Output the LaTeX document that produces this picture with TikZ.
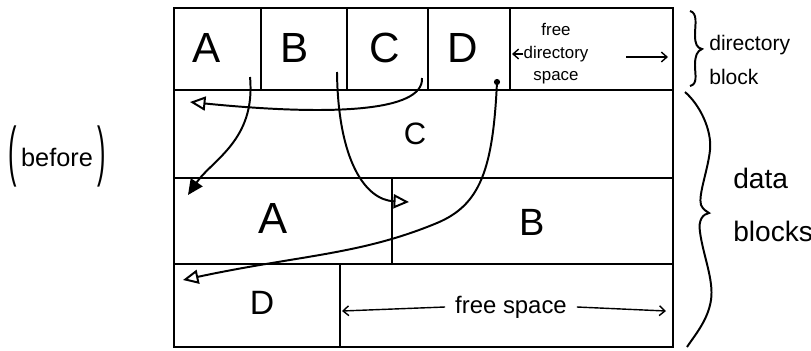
\documentclass[tikz,border=0pt]{standalone}
\usepackage{fontspec}
\setmainfont{Liberation Sans}
\usetikzlibrary{arrows.meta,calc}

\begin{document}
\begin{tikzpicture}[x=0.025cm,y=-0.025cm,
    frame/.style={line width=1.9pt},
    grid/.style={line width=1.5pt},
    entry/.style={font=\fontsize{30}{30}\selectfont},
    blk/.style={font=\fontsize{27}{27}\selectfont},
    note/.style={align=center,inner sep=0pt,font=\fontsize{12}{16}\selectfont},
    side/.style={align=left,anchor=west,inner sep=0pt},
    ptr/.style={line width=1.4pt,-{Triangle[open,length=11pt,width=10pt,line width=1.4pt]}},
    gap/.style={line width=1pt,-{Straight Barb[length=4pt,width=7pt]}},
    brace/.style={line width=1.4pt}
  ]
    \useasboundingbox (0,0) rectangle (811,350);

    \draw[frame] (174,8) rectangle (673,347);
    \draw[grid] (174,90) -- (673,90);
    \draw[grid] (174,178) -- (673,178);
    \draw[grid] (174,264) -- (673,264);
    \foreach \x in {261,347,428,510}
      \draw[grid] (\x,8) -- (\x,90);
    \draw[grid] (392,178) -- (392,264);
    \draw[grid] (340,264) -- (340,347);

    \node[entry] (dA) at (207,48) {A};
    \node[entry] (dB) at (295,48) {B};
    \node[entry] (dC) at (385,48) {C};
    \node[entry] (dD) at (463,48) {D};
    \node[note] (fds) at (556,54) {free\\directory\\space};

    \node[blk,font=\fontsize{22}{22}\selectfont] (bC) at (415,134) {C};
    \node[blk,font=\fontsize{31}{31}\selectfont] (bA) at (273,218) {A};
    \node[blk] (bB) at (532,222) {B};
    \node[blk,font=\fontsize{24}{24}\selectfont] (bD) at (262,303) {D};
    \node[font=\fontsize{17}{17}\selectfont,inner sep=7pt] (fsp) at (511,307) {free space};

    \node[side,font=\fontsize{15}{24}\selectfont] (dirblk) at (709,60) {directory\\block};
    \node[side,font=\fontsize{20}{38}\selectfont] (datblk) at (733,205) {data\\blocks};
    \node[font=\fontsize{18}{18}\selectfont] (before) at (57,156)
      {\raisebox{-5pt}{\scalebox{1}[2.6]{(}}\,before\,\raisebox{-5pt}{\scalebox{1}[2.6]{)}}};

    \coordinate (fdL) at (512,54);
    \coordinate (fdT) at (626,57);
    \coordinate (fdR) at (668,57);
    \coordinate (fsL) at (342,311);
    \coordinate (fsR) at (666,311);
    \draw[gap] (fds.west) -- (fdL);
    \draw[gap] (fdT) -- (fdR);
    \draw[gap] (fsp.west) -- (fsL);
    \draw[gap] (fsp.east) -- (fsR);

    \coordinate (sA) at (250,77);
    \coordinate (tA) at (188,195);
    \coordinate (sB) at (337,72);
    \coordinate (tB) at (409,202);
    \coordinate (sC) at (422,78);
    \coordinate (tC) at (190,102);
    \coordinate (sD) at (497,82);
    \coordinate (mD) at (437,223);
    \coordinate (tD) at (183,280);

    \draw[ptr] (sC) .. controls (424,112) and (330,116) .. (tC);
    \draw[ptr,-{Triangle[length=11pt,width=10pt]}] (sA) .. controls (256,140) and (212,160) .. (tA);
    \draw[ptr] (sB) .. controls (338,160) and (365,200) .. (tB);
    \draw[ptr] (sD) .. controls (493,170) and (480,205) .. (mD) .. controls (360,255) and (300,255) .. (tD);
    \fill (sD) circle[radius=2.2pt];

    \draw[brace] (690,11) .. controls (698,13) and (695,25) .. (695,35)
      .. controls (695,44) and (697,48) .. (702,49)
      .. controls (697,51) and (695,56) .. (695,65)
      .. controls (695,75) and (698,84) .. (690,86);
    \draw[brace] (685,92) .. controls (700,105) and (712,130) .. (710,150)
      .. controls (708,170) and (698,195) .. (701,205)
      .. controls (703,210) and (708,212) .. (709,213)
      .. controls (703,214) and (698,220) .. (700,232)
      .. controls (703,255) and (714,280) .. (711,300)
      .. controls (708,320) and (695,335) .. (687,347);
  \end{tikzpicture}
\end{document}
